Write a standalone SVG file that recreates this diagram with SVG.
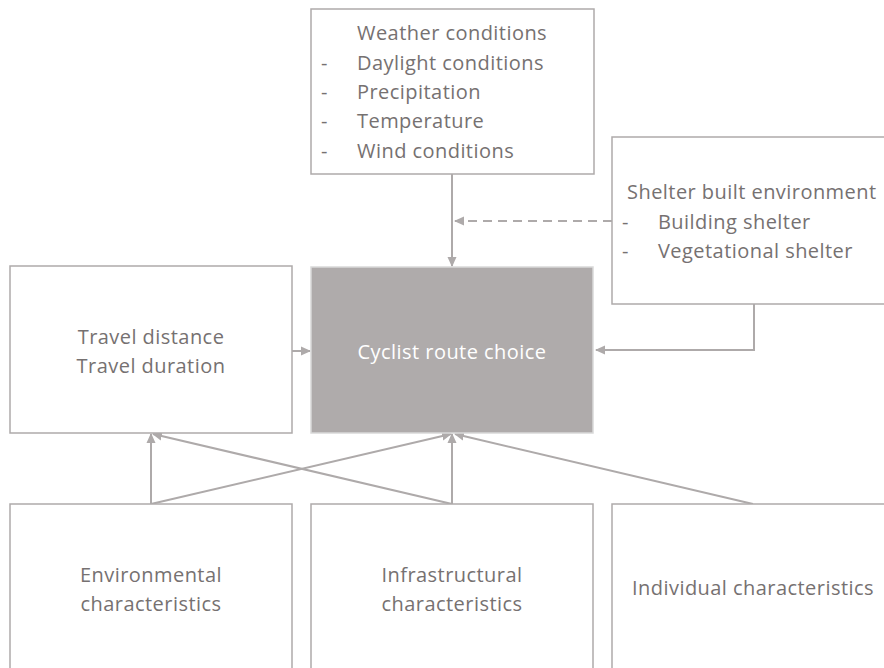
<svg xmlns="http://www.w3.org/2000/svg" width="884" height="668" viewBox="0 0 884 668">
<defs>
<style>
.box{fill:#ffffff;stroke:#aeaaaa;stroke-width:1.5}
.core{fill:#afabab;stroke:#d9d9d9;stroke-width:1.5}
.t{font-family:"Open Sans","Liberation Sans",Arial,sans-serif;font-size:20px;letter-spacing:0.45px;fill:#767171}
.c{text-anchor:middle}
.w{fill:#ffffff}
.ln{fill:none;stroke:#aeaaaa;stroke-width:2}
.dash{stroke-dasharray:9 6}
</style>
<marker id="ah" markerUnits="userSpaceOnUse" markerWidth="10" markerHeight="10" viewBox="0 0 10 10" refX="9" refY="5" orient="auto">
<path d="M0,0.5 L10,5 L0,9.5 Z" fill="#aeaaaa"/>
</marker>
</defs>
<rect width="884" height="668" fill="#ffffff"/>

<g id="connectors">
<line class="ln" x1="452" y1="174" x2="452" y2="266" marker-end="url(#ah)"/>
<line class="ln dash" x1="612" y1="221" x2="455" y2="221" marker-end="url(#ah)"/>
<polyline class="ln" points="754,304 754,350 596,350" marker-end="url(#ah)"/>
<line class="ln" x1="292" y1="351" x2="310" y2="351" marker-end="url(#ah)"/>
<line class="ln" x1="151" y1="504" x2="151" y2="434" marker-end="url(#ah)"/>
<line class="ln" x1="151" y1="504" x2="451" y2="434" marker-end="url(#ah)"/>
<line class="ln" x1="452" y1="504" x2="452" y2="434" marker-end="url(#ah)"/>
<line class="ln" x1="452" y1="504" x2="153" y2="434" marker-end="url(#ah)"/>
<line class="ln" x1="753" y1="504" x2="455" y2="434" marker-end="url(#ah)"/>
</g>

<g id="weather">
<rect class="box" x="311" y="9" width="283" height="165"/>
<text class="t" x="357" y="40">Weather conditions</text>
<text class="t" x="321" y="70">-</text><text class="t" x="357" y="70">Daylight conditions</text>
<text class="t" x="321" y="99">-</text><text class="t" x="357" y="99">Precipitation</text>
<text class="t" x="321" y="128">-</text><text class="t" x="357" y="128">Temperature</text>
<text class="t" x="321" y="158">-</text><text class="t" x="357" y="158">Wind conditions</text>
</g>

<g id="shelter">
<rect class="box" x="612" y="137" width="290" height="167"/>
<text class="t" x="627" y="199">Shelter built environment</text>
<text class="t" x="622" y="229">-</text><text class="t" x="658" y="229">Building shelter</text>
<text class="t" x="622" y="258">-</text><text class="t" x="658" y="258">Vegetational shelter</text>
</g>

<g id="travel">
<rect class="box" x="10" y="266" width="282" height="167"/>
<text class="t c" x="151" y="344">Travel distance</text>
<text class="t c" x="151" y="373">Travel duration</text>
</g>

<g id="route">
<rect class="core" x="311" y="267" width="282" height="166"/>
<text class="t c w" x="452" y="359">Cyclist route choice</text>
</g>

<g id="environmental">
<rect class="box" x="10" y="504" width="282" height="180"/>
<text class="t c" x="151" y="582">Environmental</text>
<text class="t c" x="151" y="611">characteristics</text>
</g>

<g id="infrastructural">
<rect class="box" x="311" y="504" width="282" height="180"/>
<text class="t c" x="452" y="582">Infrastructural</text>
<text class="t c" x="452" y="611">characteristics</text>
</g>

<g id="individual">
<rect class="box" x="612" y="504" width="290" height="180"/>
<text class="t c" x="753" y="595">Individual characteristics</text>
</g>
</svg>
